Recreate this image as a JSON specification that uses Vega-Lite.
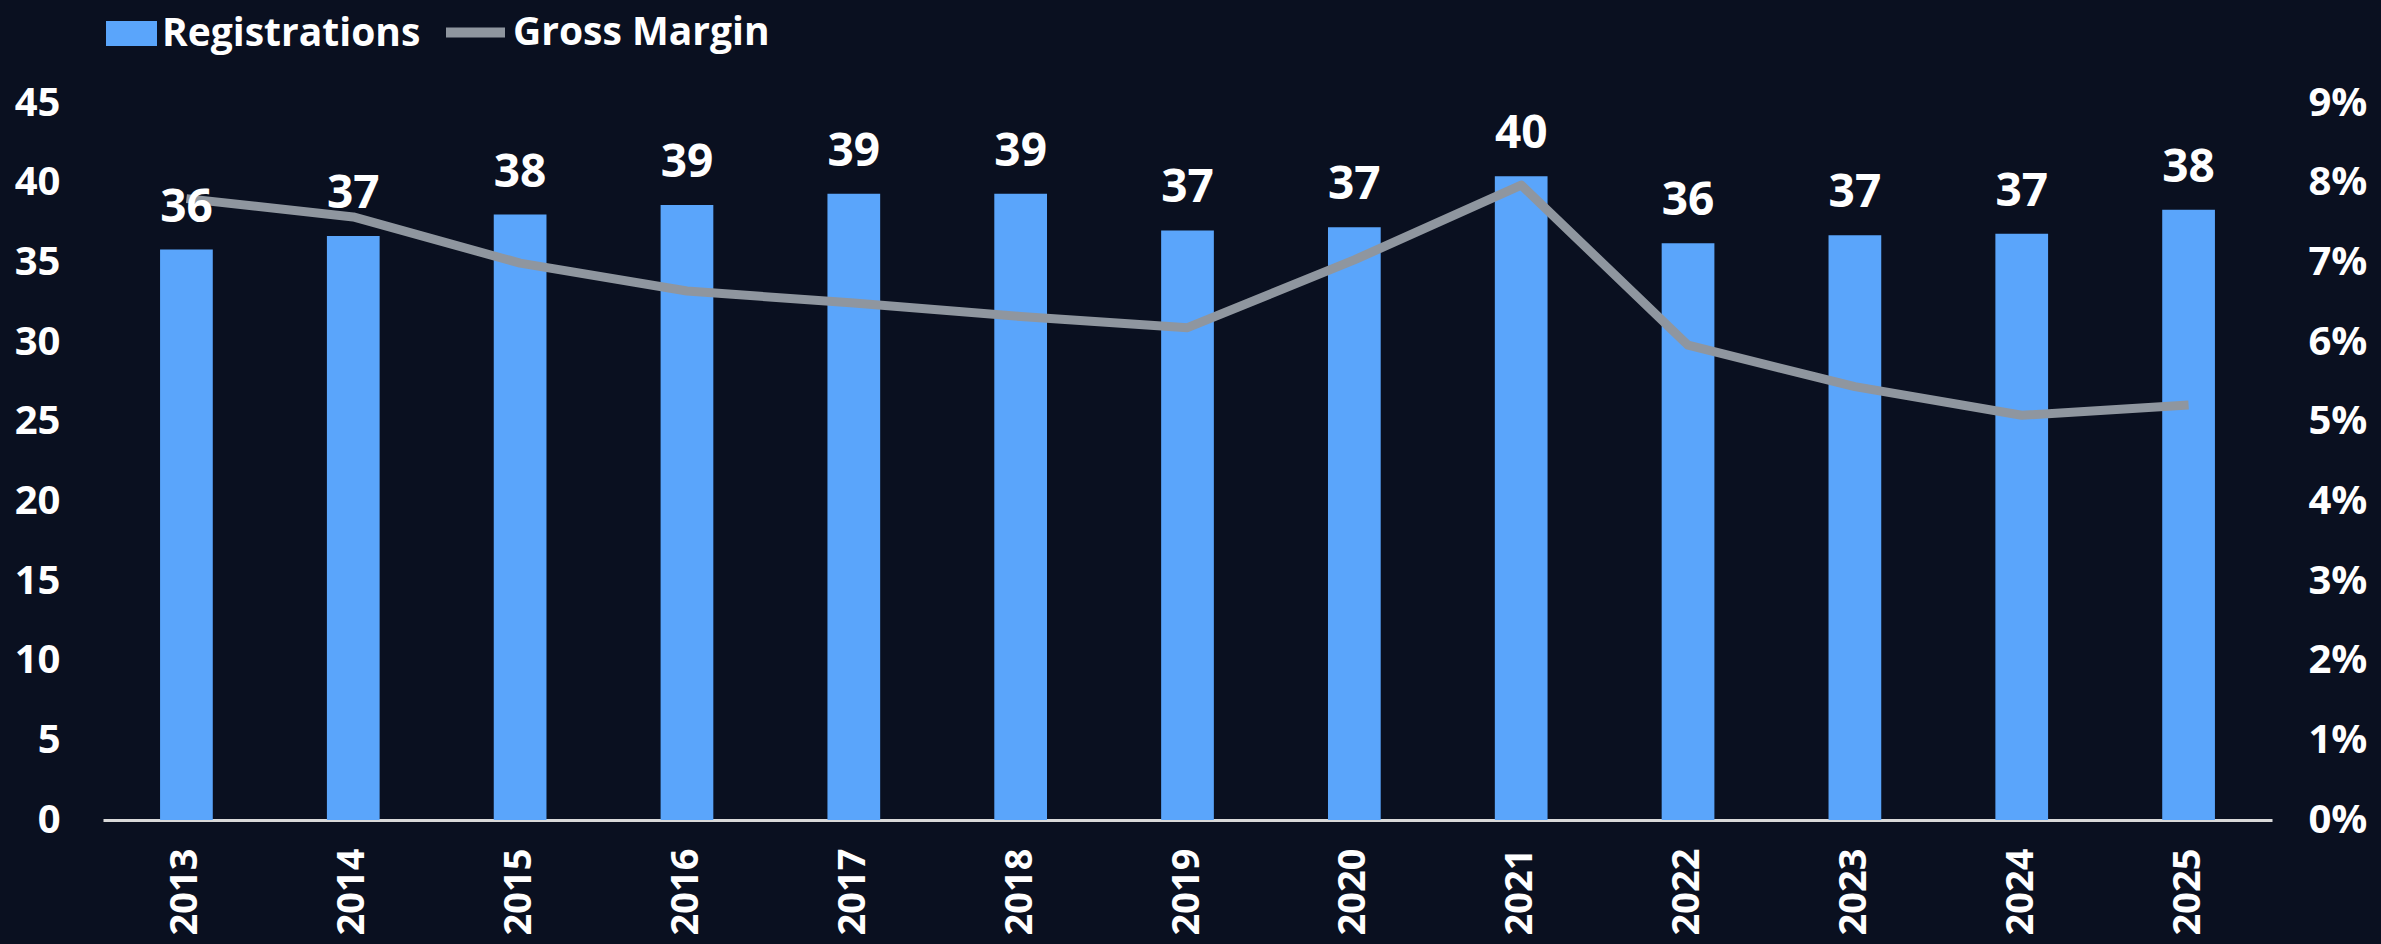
{
  "$schema": "https://vega.github.io/schema/vega-lite/v6.json",
  "autosize": "none",
  "width": 2169,
  "height": 717,
  "padding": {"left": 103, "top": 103, "right": 109, "bottom": 124},
  "background": "#0a1020",
  "config": {
    "view": {"stroke": null},
    "axis": {"grid": false, "ticks": false, "tickSize": 0, "labelColor": "#ffffff", "labelFont": "Open Sans", "labelFontWeight": 700, "title": null},
    "legend": {"labelColor": "#ffffff", "labelFont": "Open Sans", "labelFontWeight": 700, "labelFontSize": 39, "labelLimit": 0, "padding": 0, "title": null}
  },
  "data": {
    "values": [
      {"Year": "2013", "Registrations": 35.8, "GrossMargin": 0.0780},
      {"Year": "2014", "Registrations": 36.66, "GrossMargin": 0.0757},
      {"Year": "2015", "Registrations": 38.0, "GrossMargin": 0.0699},
      {"Year": "2016", "Registrations": 38.6, "GrossMargin": 0.0664},
      {"Year": "2017", "Registrations": 39.3, "GrossMargin": 0.0649},
      {"Year": "2018", "Registrations": 39.3, "GrossMargin": 0.0632},
      {"Year": "2019", "Registrations": 37.0, "GrossMargin": 0.0618},
      {"Year": "2020", "Registrations": 37.2, "GrossMargin": 0.0703},
      {"Year": "2021", "Registrations": 40.4, "GrossMargin": 0.0797},
      {"Year": "2022", "Registrations": 36.2, "GrossMargin": 0.0596},
      {"Year": "2023", "Registrations": 36.7, "GrossMargin": 0.0544},
      {"Year": "2024", "Registrations": 36.8, "GrossMargin": 0.0508},
      {"Year": "2025", "Registrations": 38.3, "GrossMargin": 0.0521}
    ]
  },
  "encoding": {
    "x": {
      "field": "Year",
      "type": "nominal",
      "sort": null,
      "scale": {"paddingInner": 0.684, "paddingOuter": 0.342},
      "axis": {
        "labelAngle": -90,
        "labelAlign": "right",
        "labelBaseline": "middle",
        "labelFontSize": 38,
        "labelPadding": 28,
        "domain": true,
        "domainColor": "#d9d9d9",
        "domainWidth": 3
      }
    }
  },
  "layer": [
    {
      "mark": {"type": "bar"},
      "encoding": {
        "y": {
          "field": "Registrations",
          "type": "quantitative",
          "scale": {"domain": [0, 45], "nice": false},
          "axis": {"orient": "left", "values": [0, 5, 10, 15, 20, 25, 30, 35, 40, 45], "labelFontSize": 40, "labelPadding": 43, "domain": false}
        },
        "fill": {
          "datum": "Registrations",
          "scale": {"range": ["#5aa5fb"]},
          "legend": {"orient": "none", "legendX": 3, "legendY": -95, "symbolType": "M-1,-0.49H1V0.49H-1Z", "symbolSize": 2601, "labelOffset": 5, "symbolStrokeWidth": 0}
        }
      }
    },
    {
      "mark": {"type": "line", "strokeWidth": 9, "strokeJoin": "round"},
      "encoding": {
        "y": {
          "field": "GrossMargin",
          "type": "quantitative",
          "scale": {"domain": [0, 0.09], "nice": false},
          "axis": {"orient": "right", "values": [0, 0.01, 0.02, 0.03, 0.04, 0.05, 0.06, 0.07, 0.08, 0.09], "format": ".0%", "labelFontSize": 40, "labelPadding": 36, "domain": false}
        },
        "stroke": {
          "datum": "Gross Margin",
          "scale": {"range": ["#8f969f"]},
          "legend": {"orient": "none", "legendX": 338, "legendY": -105, "symbolType": "stroke", "symbolSize": 3481, "symbolStrokeWidth": 10, "labelOffset": 3}
        }
      }
    },
    {
      "mark": {"type": "text", "dy": -28, "baseline": "alphabetic", "align": "center", "font": "Open Sans", "fontWeight": 700, "fontSize": 46, "color": "#ffffff"},
      "encoding": {
        "y": {
          "field": "Registrations",
          "type": "quantitative",
          "scale": {"domain": [0, 45], "nice": false},
          "axis": null
        },
        "text": {"field": "Registrations", "type": "quantitative", "format": ".0f"}
      }
    }
  ],
  "resolve": {"scale": {"y": "independent", "fill": "independent", "stroke": "independent"}}
}
